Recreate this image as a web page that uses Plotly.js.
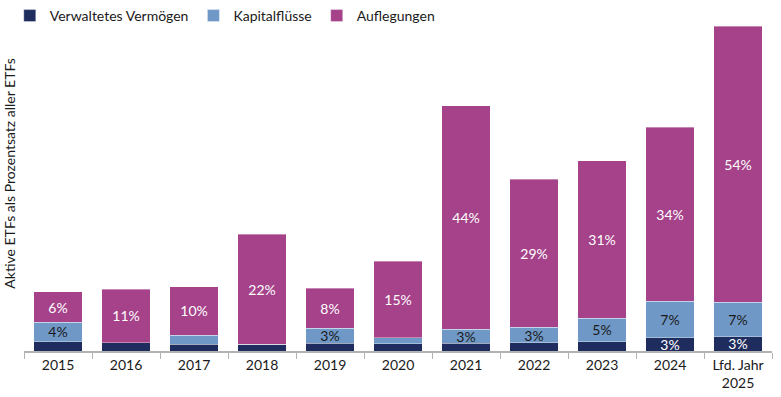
<!DOCTYPE html>
<html>
<head>
<meta charset="utf-8">
<script src="https://cdn.plot.ly/plotly-3.0.1.min.js"></script>
<style>html,body{margin:0;padding:0;background:#fff;}#chart{width:781px;height:397px;}</style>
</head>
<body>
<div id="chart"></div>
<script>
const categories = ["2015","2016","2017","2018","2019","2020","2021","2022","2023","2024","Lfd. Jahr<br>2025"];
const aum    = [1.85, 1.6, 1.3, 1.3, 1.5, 1.4, 1.5, 1.6, 1.85, 2.6, 2.8];
const flows  = [3.8, 0, 1.8, 0, 3.0, 1.2, 2.8, 3.1, 4.6, 7.2, 6.8];
const launch = [6.0, 10.6, 9.6, 21.7, 7.9, 15.1, 44.0, 29.1, 31.0, 34.3, 54.4];
const aumLabels    = ["","","","","","","","","","3%","3%"];
const flowLabels   = ["4%","","","","3%","","3%","3%","5%","7%","7%"];
const launchLabels = ["6%","11%","10%","22%","8%","15%","44%","29%","31%","34%","54%"];
const seriesNames = ["Verwaltetes Vermögen","Kapitalflüsse","Auflegungen"];
const colors = ["#1f2d5e","#7098c6","#a5428a"];

const font = "Lato, 'Open Sans', sans-serif";
function bar(y, txt, name, color, tcolor){
  return {type:"bar", x:categories, y:y, name:name, text:txt,
    textposition:"inside", insidetextanchor:"middle", textangle:0,
    textfont:{family:font, size:14, color:tcolor},
    marker:{color:color, line:{color:"rgba(255,255,255,0.6)", width:0.6}},
    hoverinfo:"skip", cliponaxis:false};
}
const data = [
  bar(aum, aumLabels, seriesNames[0], colors[0], "#ffffff"),
  bar(flows, flowLabels, seriesNames[1], colors[1], "#1a1a1a"),
  bar(launch, launchLabels, seriesNames[2], colors[2], "#ffffff")
];
const layout = {
  width:781, height:397, barmode:"stack", bargap:0.28,
  margin:{l:24, r:9, t:26, b:46, autoexpand:false},
  paper_bgcolor:"#fff", plot_bgcolor:"#fff",
  font:{family:font, size:14, color:"#1a1a1a"},
  uniformtext:{mode:"show", minsize:14},
  showlegend:true,
  legend:{orientation:"h", x:-0.019, xanchor:"left", y:1.08, yanchor:"top",
    font:{family:font, size:14, color:"#1a1a1a"}, traceorder:"normal",
    itemwidth:30, bgcolor:"rgba(0,0,0,0)"},
  xaxis:{type:"category", showline:true, linecolor:"#b3b3b3", linewidth:2,
    ticks:"outside", tickson:"boundaries", ticklen:6, tickcolor:"#b3b3b3", tickwidth:1,
    tickfont:{family:font, size:14, color:"#1a1a1a"}, showgrid:false, fixedrange:true},
  yaxis:{range:[0,64.0], visible:true, showticklabels:false, showgrid:false, zeroline:false,
    showline:false, ticks:"", fixedrange:true},
  annotations:[{text:"Aktive ETFs als Prozentsatz aller ETFs", xref:"paper", yref:"paper",
    x:-0.019, y:0.545, xanchor:"center", yanchor:"middle", textangle:-90, showarrow:false,
    font:{family:font, size:14, color:"#1a1a1a"}}]
};
Plotly.newPlot("chart", data, layout, {displayModeBar:false, staticPlot:true});
</script>
</body>
</html>
